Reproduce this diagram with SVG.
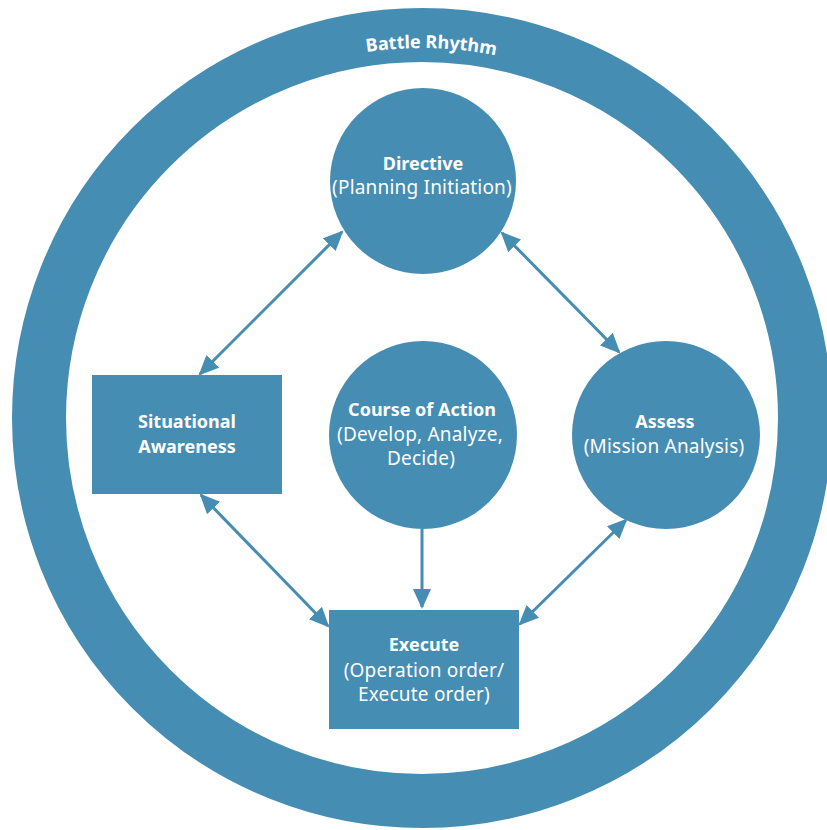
<svg xmlns="http://www.w3.org/2000/svg" width="827" height="830" viewBox="0 0 827 830">
<style>
.fill{fill:#458db2}
.t{font-family:"Noto Sans","Open Sans","Liberation Sans",sans-serif;font-size:18px;fill:#ffffff;text-anchor:middle}
.r{font-size:19px;letter-spacing:0.2px}
.b{font-weight:bold}
.c{stroke:#458db2;stroke-width:3;fill:none}
</style>
<defs>
<marker id="ah" markerUnits="userSpaceOnUse" markerWidth="22" markerHeight="20" refX="18" refY="9" orient="auto-start-reverse" viewBox="0 0 22 20">
<path d="M0,0 L20,9 L0,18 Z" fill="#458db2"/>
</marker>
<path id="arc" d="M 52,418 A 370,370 0 0 1 792,418"/>
</defs>
<rect width="827" height="830" fill="#ffffff"/>
<g id="battle-rhythm">
<circle cx="422" cy="418" r="383" fill="none" stroke="#458db2" stroke-width="54"/>
<text class="t b"><textPath href="#arc" startOffset="50.8%">Battle Rhythm</textPath></text>
</g>
<g id="connectors">
<line class="c" x1="342" y1="232" x2="200" y2="374" marker-start="url(#ah)" marker-end="url(#ah)"/>
<line class="c" x1="502" y1="233" x2="619" y2="352" marker-start="url(#ah)" marker-end="url(#ah)"/>
<line class="c" x1="201" y1="495" x2="328" y2="626" marker-start="url(#ah)" marker-end="url(#ah)"/>
<line class="c" x1="626" y1="520" x2="520" y2="624" marker-start="url(#ah)" marker-end="url(#ah)"/>
<line class="c" x1="422" y1="529" x2="422" y2="607" marker-end="url(#ah)"/>
</g>
<g id="directive">
<circle class="fill" cx="423" cy="181" r="93"/>
<text class="t b" x="423" y="170">Directive</text>
<text class="t r" x="422" y="194">(Planning Initiation)</text>
</g>
<g id="course-of-action">
<circle class="fill" cx="423" cy="435" r="94"/>
<text class="t b" x="422" y="416">Course of Action</text>
<text class="t r" x="420" y="441">(Develop, Analyze,</text>
<text class="t r" x="421" y="465">Decide)</text>
</g>
<g id="assess">
<circle class="fill" cx="666" cy="435" r="94"/>
<text class="t b" x="665" y="428">Assess</text>
<text class="t r" x="664" y="453">(Mission Analysis)</text>
</g>
<g id="situational-awareness">
<rect class="fill" x="92" y="375" width="190" height="119"/>
<text class="t b" x="187" y="428">Situational</text>
<text class="t b" x="187" y="453">Awareness</text>
</g>
<g id="execute">
<rect class="fill" x="329" y="610" width="190" height="119"/>
<text class="t b" x="424" y="651">Execute</text>
<text class="t r" x="424" y="677">(Operation order/</text>
<text class="t r" x="424" y="701">Execute order)</text>
</g>
</svg>
